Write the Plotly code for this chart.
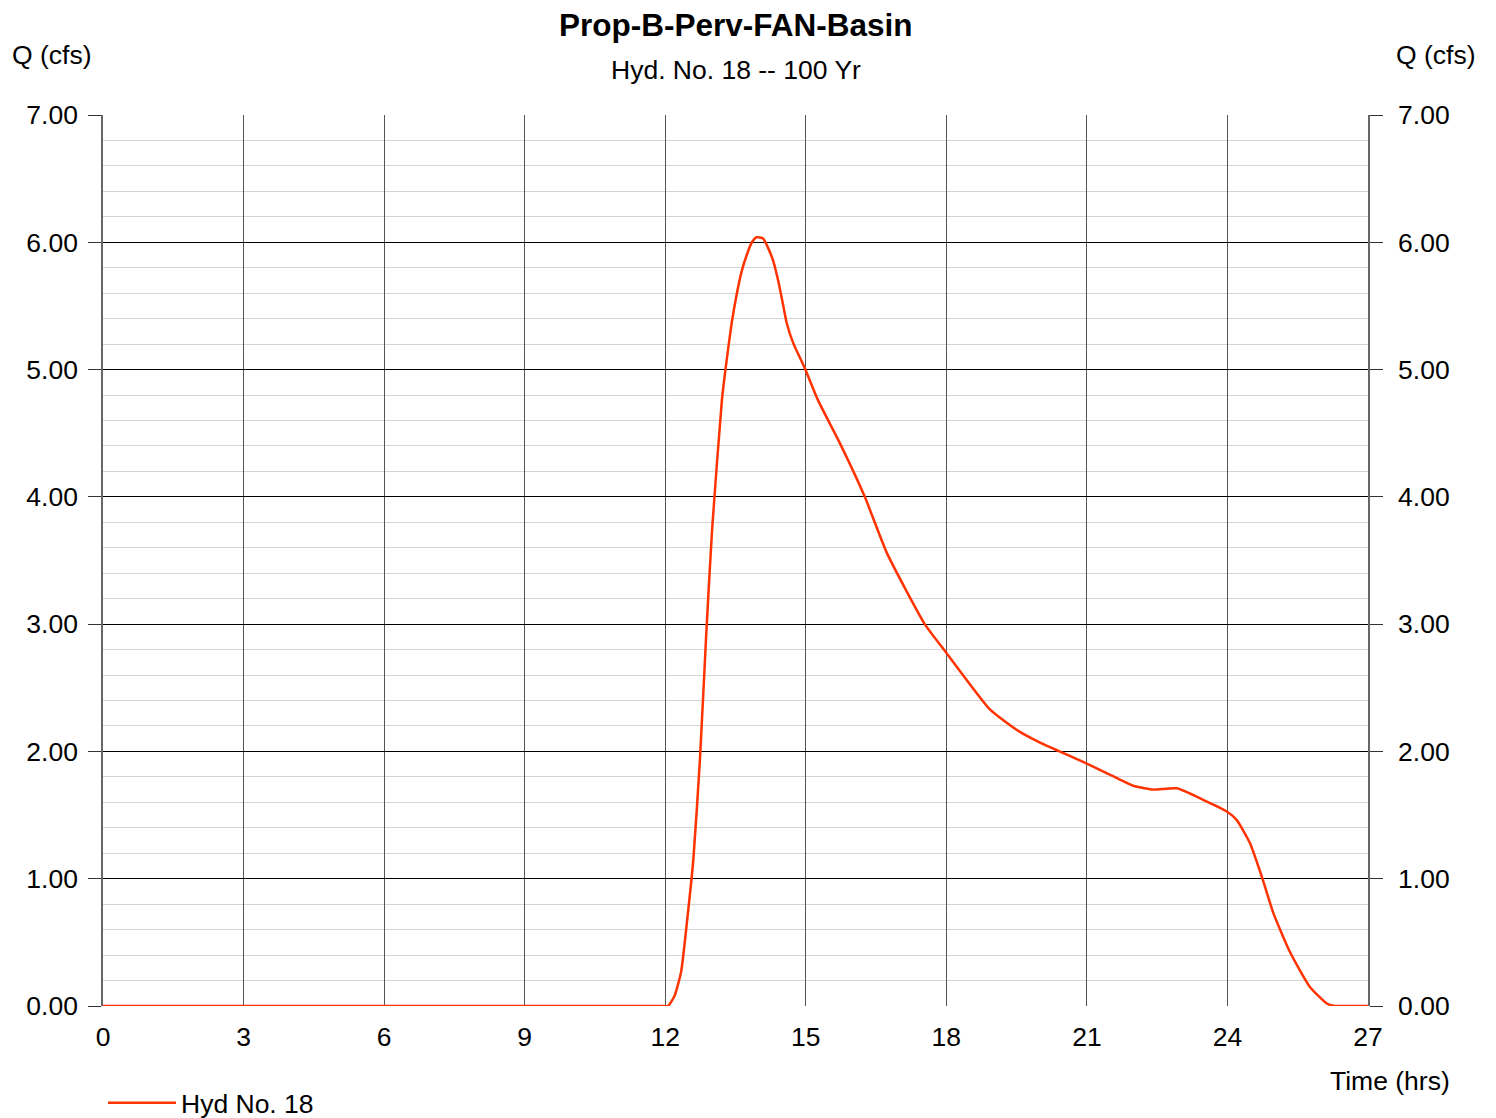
import plotly.graph_objects as go

time_hrs = [0, 3, 6, 9, 10.5, 11.5, 11.9, 12.06, 12.2, 12.34, 12.47, 12.6, 12.74, 12.87, 13.0, 13.21, 13.31, 13.42,
            13.53, 13.63, 13.74, 13.85, 13.95, 14.09, 14.19, 14.30, 14.41, 14.51, 14.59,
            14.73, 14.98, 15.26, 15.73, 16.26, 16.73, 17.54, 18.01, 18.93, 19.5, 20.0,
            20.85, 21.42, 21.99, 22.41, 22.92, 23.48, 23.98, 24.2, 24.48, 24.73, 24.98,
            25.34, 25.76, 26.12, 26.3, 26.6, 27]
flow_cfs = [0, 0, 0, 0, 0, 0, 0, 0, 0.08, 0.27, 0.68, 1.15, 1.93, 2.88, 3.74, 4.76, 5.07, 5.37,
            5.60, 5.77, 5.90, 6.00, 6.04, 6.03, 5.96, 5.86, 5.70, 5.52, 5.37,
            5.21, 5.01, 4.76, 4.42, 4.00, 3.56, 3.00, 2.77, 2.33, 2.17, 2.07,
            1.93, 1.83, 1.73, 1.70, 1.71, 1.62, 1.53, 1.46, 1.28, 1.02, 0.73,
            0.42, 0.15, 0.02, 0, 0, 0]

x_ticks = [0, 3, 6, 9, 12, 15, 18, 21, 24, 27]
y_ticks = [0, 1, 2, 3, 4, 5, 6, 7]
y_labels = ["%.2f" % v for v in y_ticks]

FONT = "Liberation Sans, Arial, sans-serif"
LINE_COLOR = "#ff3300"
FS = 26.5

fig = go.Figure()
fig.add_trace(go.Scatter(x=time_hrs, y=flow_cfs, mode="lines", name="Hyd No. 18", cliponaxis=False,
                         line=dict(color=LINE_COLOR, width=2.5, shape="spline", smoothing=0.5)))
fig.add_trace(go.Scatter(x=time_hrs, y=flow_cfs, mode="lines", yaxis="y2", showlegend=False,
                         hoverinfo="skip", line=dict(color="rgba(0,0,0,0)", width=0)))

fig.update_layout(
    width=1496, height=1118,
    margin=dict(l=95, r=136, t=107, b=120, autoexpand=False),
    paper_bgcolor="white", plot_bgcolor="white",
    font=dict(family=FONT, size=FS, color="black"),
    xaxis=dict(range=[0, 27], tickvals=x_ticks, ticktext=[str(v) for v in x_ticks],
               showgrid=True, gridcolor="#555555", gridwidth=1, zeroline=False,
               showline=False, ticks="", ticklabelstandoff=12, tickfont=dict(size=FS)),
    yaxis=dict(range=[0, 7], tickvals=y_ticks, ticktext=y_labels,
               showgrid=True, gridcolor="black", gridwidth=1, zeroline=False,
               showline=True, linecolor="#666666", linewidth=1.5,
               ticks="outside", ticklen=13, tickcolor="#333333", ticklabelstandoff=5,
               tickfont=dict(size=FS),
               minor=dict(dtick=0.2, showgrid=True, gridcolor="#d4d4d4", gridwidth=1, ticks="")),
    yaxis2=dict(range=[0, 7], tickvals=y_ticks, ticktext=y_labels, overlaying="y", side="right",
                showgrid=False, zeroline=False, showline=True, linecolor="#666666", linewidth=1.5,
                ticks="outside", ticklen=13, tickcolor="#333333", ticklabelstandoff=10,
                tickfont=dict(size=FS)),
    showlegend=True,
    legend=dict(x=0.0, y=-0.109, xanchor="left", yanchor="middle", orientation="h",
                itemwidth=68, font=dict(size=FS), bgcolor="rgba(0,0,0,0)"),
    annotations=[
        dict(text="<b>Prop-B-Perv-FAN-Basin</b>", xref="paper", yref="paper", x=0.5, y=1.1015,
             xanchor="center", yanchor="middle", showarrow=False, font=dict(size=31.5)),
        dict(text="Hyd. No. 18 -- 100 Yr", xref="paper", yref="paper", x=0.5, y=1.0505,
             xanchor="center", yanchor="middle", showarrow=False, font=dict(size=FS)),
        dict(text="Q (cfs)", xref="paper", yref="paper", x=-0.0735, y=1.067,
             xanchor="left", yanchor="middle", showarrow=False, font=dict(size=FS)),
        dict(text="Q (cfs)", xref="paper", yref="paper", x=1.087, y=1.067,
             xanchor="right", yanchor="middle", showarrow=False, font=dict(size=FS)),
        dict(text="Time (hrs)", xref="paper", yref="paper", x=1.0664, y=-0.084,
             xanchor="right", yanchor="middle", showarrow=False, font=dict(size=FS)),
    ],
)

fig.write_html("out.html")
